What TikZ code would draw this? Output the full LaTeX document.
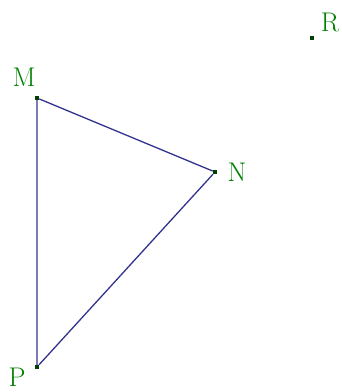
\documentclass[tikz,border=0pt]{standalone}
\begin{document}
\begin{tikzpicture}[x=1pt,y=-1pt,
  edge/.style={draw=blue!45!black!80,line width=1.3pt},
  lbl/.style={text=green!50!black,font=\fontsize{27}{27}\selectfont,inner sep=0pt},
  pt/.style={fill=green!25!black,minimum size=4pt,inner sep=0pt,shape=rectangle}]
\useasboundingbox[fill=white] (0,0) rectangle (342,392);
\node[pt] (M) at (37,98) {};
\node[pt] (N) at (215,172) {};
\node[pt] (P) at (37,367) {};
\node[pt] (R) at (312,38) {};
\draw[edge] (M) -- (N) -- (P) -- (M);
\node[pt] at (M) {};
\node[pt] at (N) {};
\node[pt] at (P) {};
\node[lbl] (lM) at (24,77) {M};
\node[lbl] (lN) at (237,172) {N};
\node[lbl] (lP) at (17,377) {P};
\node[lbl] (lR) at (330,22) {R};
\end{tikzpicture}
\end{document}
